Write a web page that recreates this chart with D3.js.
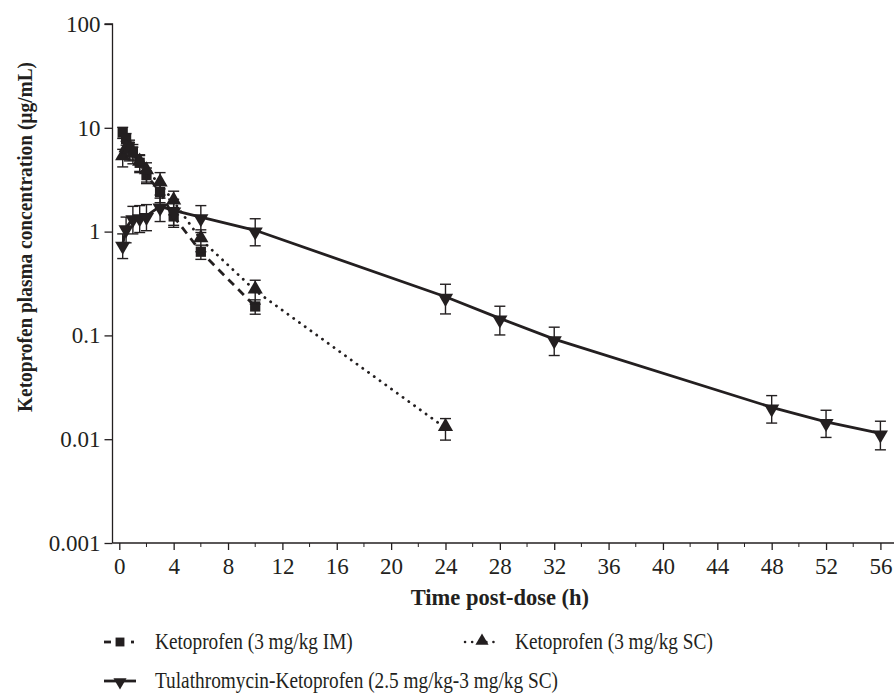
<!DOCTYPE html>
<html>
<head>
<meta charset="utf-8">
<script src="https://cdn.jsdelivr.net/npm/d3@7"></script>
<style>
body { margin: 0; background: #fff; }
text { font-family: "Liberation Serif", "Times New Roman", serif; fill: #231f20; }
</style>
</head>
<body>
<svg width="896" height="697"></svg>
<script>

// ketoprofen IM
var imTimes = [0.25, 0.5, 0.75, 1, 1.5, 2, 3, 4, 6, 10];
var imMeans = [9.0, 7.8, 6.6, 5.9, 4.6, 3.5, 2.4, 1.4, 0.64, 0.19];
var imSD    = [1.1, 1.0, 1.0, 1.0, 0.8, 0.6, 0.5, 0.3, 0.1, 0.03];

// ketoprofen SC
var scTimes = [0.25, 0.5, 0.75, 1, 1.5, 2, 3, 4, 6, 10, 24];
var scMeans = [5.2, 6.2, 6.0, 5.5, 4.6, 3.8, 2.9, 1.95, 0.84, 0.27, 0.0128];
var scSD    = [1.0, 1.2, 1.2, 1.0, 0.9, 0.8, 0.8, 0.5, 0.2, 0.07, 0.003];

// tulathromycin + ketoprofen SC
var tkTimes = [0.25, 0.5, 1, 1.5, 2, 3, 4, 6, 10, 24, 28, 32, 48, 52, 56];
var tkMeans = [0.75, 1.08, 1.35, 1.38, 1.42, 1.75, 1.6, 1.38, 1.03, 0.236, 0.146, 0.092, 0.0203, 0.0147, 0.0114];
var tkSD    = [0.2, 0.3, 0.4, 0.4, 0.4, 0.5, 0.45, 0.4, 0.3, 0.075, 0.045, 0.028, 0.006, 0.0043, 0.0035];

var xTicks = [0, 4, 8, 12, 16, 20, 24, 28, 32, 36, 40, 44, 48, 52, 56];
var yTicks = [0.001, 0.01, 0.1, 1, 10, 100];
var yTickLabels = ["0.001", "0.01", "0.1", "1", "10", "100"];
var legendLabels = ["Ketoprofen (3 mg/kg IM)", "Ketoprofen (3 mg/kg SC)",
    "Tulathromycin-Ketoprofen (2.5 mg/kg-3 mg/kg SC)"];

var ink = "#231f20";
var svg = d3.select("svg");

var x = d3.scaleLinear().domain([-0.5, 57]).range([112.5, 894]);
var y = d3.scaleLog().domain([0.001, 100]).range([543, 24]);

function rows(t, m, s) {
  return t.map(function(d, i) { return {t: d, m: m[i], sd: s[i]}; });
}

var series = [
  {name: legendLabels[0], data: rows(imTimes, imMeans, imSD), sym: d3.symbolSquare, size: 105, rot: 0, dash: "8,6", cap: "butt"},
  {name: legendLabels[1], data: rows(scTimes, scMeans, scSD), sym: d3.symbolTriangle, size: 100, rot: 0, dash: "0.1,7", cap: "round"},
  {name: legendLabels[2], data: rows(tkTimes, tkMeans, tkSD), sym: d3.symbolTriangle, size: 100, rot: 180, dash: null, cap: "butt"}
];

// axes
var yAxis = svg.append("g").attr("transform", "translate(112.5,0)")
    .call(d3.axisLeft(y).tickValues(yTicks).tickSize(8).tickPadding(4)
      .tickFormat(function(d, i) { return yTickLabels[i]; }));
yAxis.select(".domain").attr("d", "M-8," + y(100) + "H0V" + y(0.001));

var xAxis = svg.append("g").attr("transform", "translate(0,543)")
    .call(d3.axisBottom(x).tickValues(xTicks).tickSize(7).tickPadding(8));
xAxis.select(".domain").attr("d", "M112.5,0H894");

// minor x ticks
xAxis.selectAll(".minor")
    .data(d3.range(2, 57, 4))
  .enter().append("line")
    .attr("x1", function(d) { return x(d); })
    .attr("x2", function(d) { return x(d); })
    .attr("y1", 0).attr("y2", 4)
    .attr("stroke", ink);

svg.selectAll(".tick text").style("font-size", "23px").attr("fill", ink);
svg.selectAll(".domain, .tick line").attr("stroke", ink).attr("stroke-width", 1.3);

// axis titles
svg.append("text")
    .attr("x", x(28)).attr("y", 605)
    .attr("text-anchor", "middle")
    .style("font-size", "22.5px").style("font-weight", "bold")
    .text("Time post-dose (h)");

svg.append("text")
    .attr("transform", "translate(32,237) rotate(-90) scale(0.88,1)")
    .attr("text-anchor", "middle")
    .style("font-size", "22px").style("font-weight", "bold")
    .text("Ketoprofen plasma concentration (µg/mL)");

var line = d3.line().x(function(d) { return x(d.t); }).y(function(d) { return y(d.m); });

series.forEach(function(s) {
  var g = svg.append("g");

  g.append("path")
      .datum(s.data)
      .attr("d", line)
      .attr("fill", "none")
      .attr("stroke", ink)
      .attr("stroke-width", 2.8)
      .attr("stroke-linecap", s.cap)
      .attr("stroke-dasharray", s.dash);

  var eb = g.selectAll(".eb").data(s.data).enter().append("g");
  eb.append("line")
      .attr("x1", function(d) { return x(d.t); })
      .attr("x2", function(d) { return x(d.t); })
      .attr("y1", function(d) { return y(d.m + d.sd); })
      .attr("y2", function(d) { return y(Math.max(d.m - d.sd, 0.0011)); })
      .attr("stroke", ink).attr("stroke-width", 1.4);
  [function(d) { return d.m + d.sd; }, function(d) { return Math.max(d.m - d.sd, 0.0011); }].forEach(function(f) {
    eb.append("line")
        .attr("x1", function(d) { return x(d.t) - 5.5; })
        .attr("x2", function(d) { return x(d.t) + 5.5; })
        .attr("y1", function(d) { return y(f(d)); })
        .attr("y2", function(d) { return y(f(d)); })
        .attr("stroke", ink).attr("stroke-width", 1.4);
  });

  g.selectAll(".pt").data(s.data).enter().append("path")
      .attr("d", d3.symbol().type(s.sym).size(s.size))
      .attr("transform", function(d) {
        var dy = s.sym === d3.symbolTriangle ? (s.rot ? 1.5 : -1.5) : 0;
        return "translate(" + x(d.t) + "," + (y(d.m) + dy) + ") rotate(" + s.rot + ")";
      })
      .attr("fill", ink);
});

// legend
var legPos = [[104, 642], [463, 642], [104, 681]];
series.forEach(function(s, i) {
  var lg = svg.append("g").attr("transform", "translate(" + legPos[i][0] + "," + legPos[i][1] + ")");
  if (i === 0) {
    lg.append("line").attr("x1", 0).attr("x2", 7).attr("y1", 0).attr("y2", 0)
        .attr("stroke", ink).attr("stroke-width", 2.8);
    lg.append("line").attr("x1", 27).attr("x2", 30).attr("y1", 0).attr("y2", 0)
        .attr("stroke", ink).attr("stroke-width", 2.8);
  } else if (i === 1) {
    lg.append("line").attr("x1", 2).attr("x2", 31).attr("y1", 0).attr("y2", 0)
        .attr("stroke", ink).attr("stroke-width", 2.5)
        .attr("stroke-linecap", "round").attr("stroke-dasharray", "0.1,7");
  } else {
    lg.append("line").attr("x1", 0).attr("x2", 32).attr("y1", 0).attr("y2", 0)
        .attr("stroke", ink).attr("stroke-width", 2.8);
  }
  lg.append("path")
      .attr("d", d3.symbol().type(s.sym).size(s.size * 0.75))
      .attr("transform", "translate(" + (i === 1 ? 19 : 16) + "," + (s.sym === d3.symbolTriangle ? (s.rot ? 1 : -1) : 0) + ") rotate(" + s.rot + ")")
      .attr("fill", ink);
  lg.append("text")
      .attr("transform", "translate(" + (i === 1 ? 52 : 51) + ",7) scale(0.84,1)")
      .style("font-size", "23px")
      .text(s.name);
});

</script>
</body>
</html>
